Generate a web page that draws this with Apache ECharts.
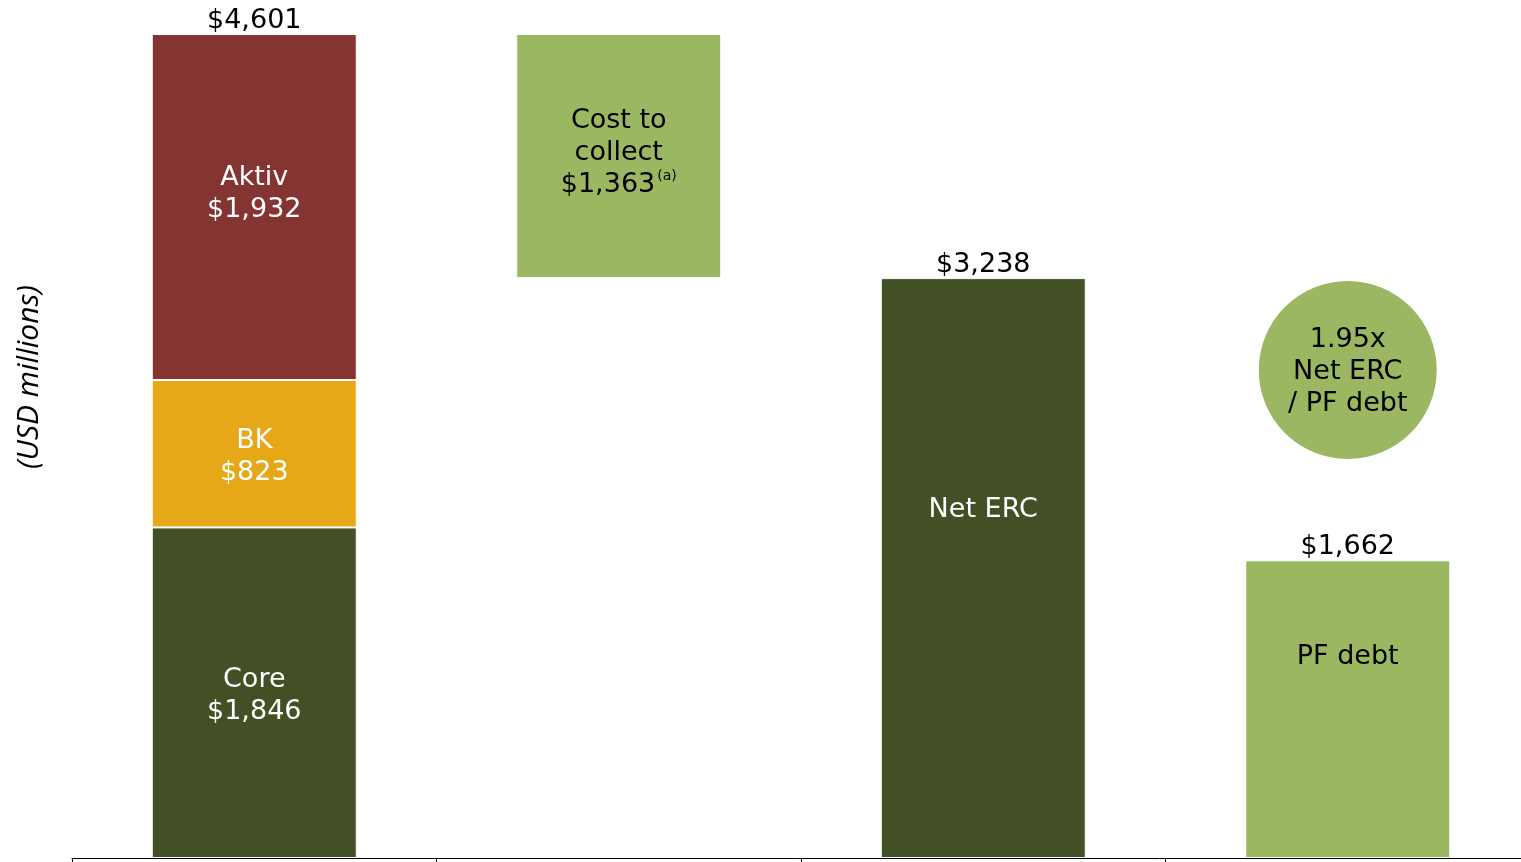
<!DOCTYPE html>
<html><head><meta charset="utf-8">
<script src="https://cdn.jsdelivr.net/npm/echarts@6/dist/echarts.min.js"></script>
<style>html,body{margin:0;padding:0;background:#fff}#c{width:1521px;height:862px}</style>
</head><body><div id="c"></div>
<script>
const categories = ['Gross ERC', 'Cost to collect', 'Net ERC', 'PF debt'];
const coreValues = [1846, null, null, null];
const bkValues = [823, null, null, null];
const aktivValues = [1932, null, null, null];
const baseValues = [null, 3238, null, null];
const costValues = [null, 1363, null, null];
const netErcValues = [null, null, 3238, null];
const pfDebtValues = [null, null, null, 1662];
const totalLabels = ['$4,601', '', '$3,238', '$1,662'];
const ratioText = ['1.95x', 'Net ERC', '/ PF debt'];
const ratioPosition = [null, null, null, 2725];

const FONT = 'DejaVu Sans';
const FS = 27;
const chart = echarts.init(document.getElementById('c'));
const inLabel = (color, offY) => ({show: true, position: 'inside', color: color, fontFamily: FONT, fontSize: FS, lineHeight: 32, offset: [0, offY || 0]});

chart.setOption({
  animation: false,
  grid: {left: 72, right: -9, top: 0, bottom: 4, containLabel: false, outerBoundsMode: 'none'},
  xAxis: {
    type: 'category', data: categories,
    axisLine: {lineStyle: {color: '#000', width: 1}},
    axisTick: {show: true, length: 6, lineStyle: {color: '#000'}},
    axisLabel: {show: false}
  },
  yAxis: {
    type: 'value', min: 0, max: 4791,
    splitLine: {show: false}, axisLabel: {show: false}, axisLine: {show: false}, axisTick: {show: false},
    name: '(USD millions)', nameLocation: 'middle', nameGap: 28,
    nameTextStyle: {fontFamily: 'Open Sans', fontStyle: 'italic', fontSize: 30, color: '#000', padding: [0, 0, 0, 104]}
  },
  series: [
    {type: 'bar', stack: 's', barWidth: 205, data: coreValues,
     itemStyle: {color: '#435026', borderColor: '#fff', borderWidth: 1},
     label: Object.assign(inLabel('#fff', 3), {formatter: () => 'Core\n$1,846'})},
    {type: 'bar', stack: 's', data: bkValues,
     itemStyle: {color: '#E6A817', borderColor: '#fff', borderWidth: 1},
     label: Object.assign(inLabel('#fff', 3), {formatter: () => 'BK\n$823'})},
    {type: 'bar', stack: 's', data: aktivValues,
     itemStyle: {color: '#843431', borderColor: '#fff', borderWidth: 1},
     label: Object.assign(inLabel('#fff', -13), {formatter: () => 'Aktiv\n$1,932'})},
    {type: 'bar', stack: 's', data: baseValues,
     itemStyle: {color: 'rgba(0,0,0,0)'}, silent: true},
    {type: 'bar', stack: 's', data: costValues,
     itemStyle: {color: '#9BB761', borderColor: '#fff', borderWidth: 1},
     label: Object.assign(inLabel('#000', -3), {
       formatter: () => 'Cost to\ncollect\n$1,363{sup|(a)}',
       rich: {sup: {fontFamily: FONT, fontSize: 14, color: '#000', verticalAlign: 'top', lineHeight: 14, padding: [0, 0, 22, 2]}}
     })},
    {type: 'bar', stack: 's', data: netErcValues,
     itemStyle: {color: '#435026', borderColor: '#fff', borderWidth: 1},
     label: Object.assign(inLabel('#fff', -58), {formatter: () => 'Net ERC'})},
    {type: 'bar', stack: 's', data: pfDebtValues,
     itemStyle: {color: '#9BB761', borderColor: '#fff', borderWidth: 1},
     label: Object.assign(inLabel('#000', -52), {formatter: () => 'PF debt'})},
    {type: 'bar', stack: 's', data: [0, null, 0, 0], itemStyle: {color: 'rgba(0,0,0,0)'}, silent: true,
     label: {show: true, position: 'top', distance: 0, color: '#000', fontFamily: FONT, fontSize: FS,
       formatter: p => totalLabels[p.dataIndex]}},
    {type: 'scatter', data: ratioPosition, symbol: 'circle', symbolSize: 178,
     itemStyle: {color: '#9BB761', opacity: 1},
     label: {show: true, position: 'inside', color: '#000', fontFamily: FONT, fontSize: FS, lineHeight: 32,
       offset: [0, 2], formatter: () => ratioText.join('\n')}}
  ]
});
</script></body></html>
